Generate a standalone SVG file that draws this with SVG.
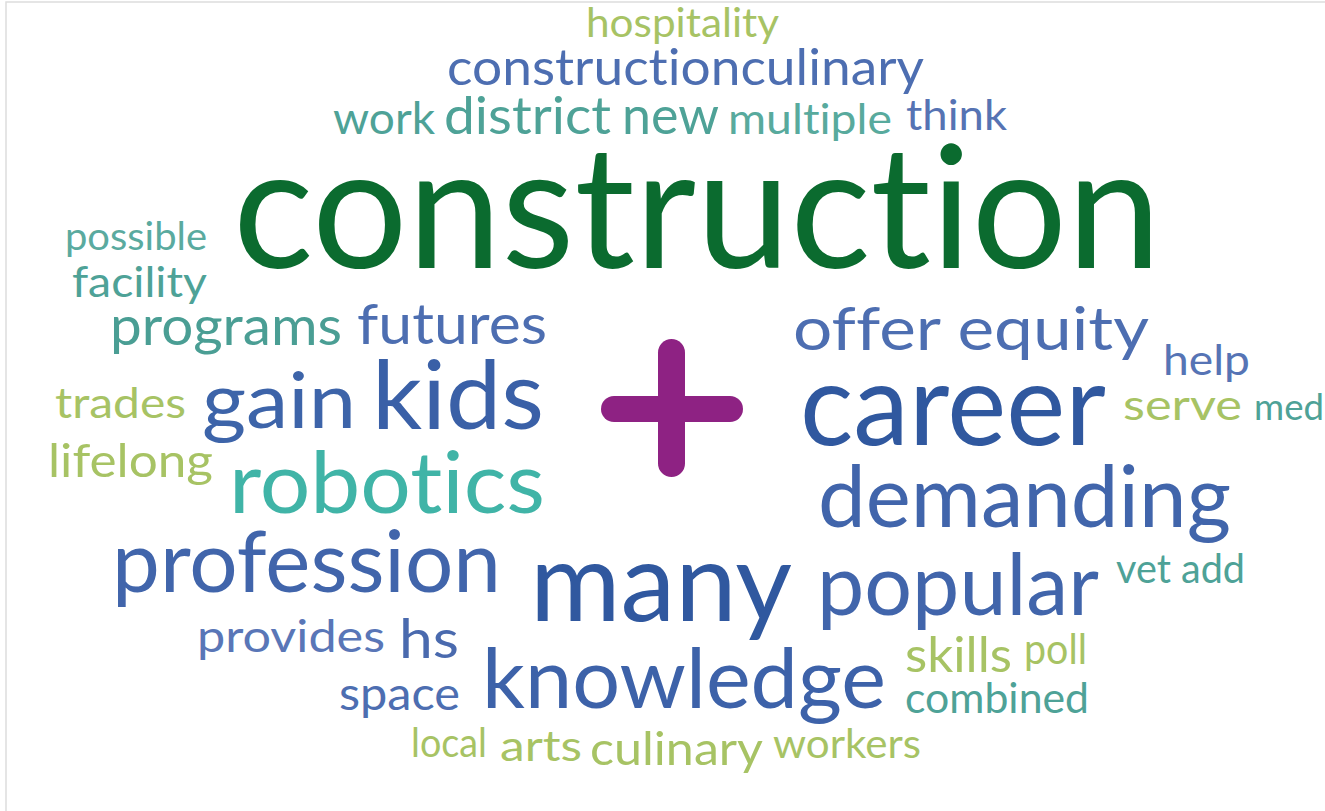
<svg xmlns="http://www.w3.org/2000/svg" width="1325" height="811" viewBox="0 0 1325 811">
<style>
text{font-family:Lato,"Open Sans","Liberation Sans",sans-serif;font-weight:400;font-variant-ligatures:none;font-feature-settings:"liga" 0,"clig" 0}
.lg{fill:#A7C364}.tl{fill:#4EA297}.bl{fill:#4D6EB1}.db{fill:#30589F}.mb{fill:#4165AB}.dg{fill:#0B6B2F}.tq{fill:#40B4A7}
</style>
<rect width="1325" height="811" fill="#fff"/>
<path d="M6,811 V2 H1325" fill="none" stroke="#DDDDDD" stroke-width="1.5"/>
<g id="plus" fill="#8E2283">
<rect x="658" y="339" width="27" height="138" rx="13.5"/>
<rect x="601" y="396" width="142" height="26" rx="13"/>
</g>
<g id="words">
<text id="w-hospitality" class="lg" x="586" y="37" font-size="40" textLength="193" lengthAdjust="spacingAndGlyphs">hospitality</text>
<text id="w-constructionculinary" class="bl" x="447" y="85" font-size="50" textLength="477" lengthAdjust="spacingAndGlyphs">constructionculinary</text>
<text id="w-work" class="tl" x="333" y="134" font-size="45" textLength="102" lengthAdjust="spacingAndGlyphs">work</text>
<text id="w-district" class="tl" x="444" y="134" font-size="52" textLength="167" lengthAdjust="spacingAndGlyphs">district</text>
<text id="w-new" class="tl" x="622" y="134" font-size="52" textLength="97" lengthAdjust="spacingAndGlyphs">new</text>
<text id="w-multiple" class="tl" x="728" y="134" font-size="43" textLength="164" lengthAdjust="spacingAndGlyphs" style="fill:#58AA9D">multiple</text>
<text id="w-think" class="bl" x="906" y="130" font-size="43" textLength="101" lengthAdjust="spacingAndGlyphs" style="fill:#5673B3">think</text>
<text id="w-construction" class="dg" x="233" y="268" font-size="170" textLength="928" lengthAdjust="spacingAndGlyphs">construction</text>
<text id="w-possible" class="tl" x="65" y="250" font-size="38" textLength="142" lengthAdjust="spacingAndGlyphs" style="fill:#5AAA9F">possible</text>
<text id="w-facility" class="tl" x="72" y="297" font-size="43" textLength="135" lengthAdjust="spacingAndGlyphs">facility</text>
<text id="w-programs" class="tl" x="110" y="345" font-size="55" textLength="232" lengthAdjust="spacingAndGlyphs" style="fill:#4A9E94">programs</text>
<text id="w-futures" class="bl" x="357" y="344" font-size="56" textLength="190" lengthAdjust="spacingAndGlyphs">futures</text>
<text id="w-offerequity" class="bl" x="793" y="350" font-size="60" textLength="356" lengthAdjust="spacingAndGlyphs">offer equity</text>
<text id="w-help" class="bl" x="1163" y="375" font-size="43" textLength="87" lengthAdjust="spacingAndGlyphs" style="fill:#5674B5">help</text>
<text id="w-trades" class="lg" x="55" y="418" font-size="43" textLength="131" lengthAdjust="spacingAndGlyphs">trades</text>
<text id="w-gain" class="mb" x="202" y="428" font-size="78" textLength="154" lengthAdjust="spacingAndGlyphs" style="fill:#3D64A9">gain</text>
<text id="w-kids" class="mb" x="372" y="429" font-size="95" textLength="172" lengthAdjust="spacingAndGlyphs" style="fill:#3A60A7">kids</text>
<text id="w-career" class="db" x="800" y="445" font-size="114" textLength="306" lengthAdjust="spacingAndGlyphs">career</text>
<text id="w-serve" class="lg" x="1123" y="420" font-size="43" textLength="119" lengthAdjust="spacingAndGlyphs">serve</text>
<text id="w-med" class="tl" x="1254" y="420" font-size="36" textLength="70" lengthAdjust="spacingAndGlyphs">med</text>
<text id="w-lifelong" class="lg" x="48" y="477" font-size="47" textLength="165" lengthAdjust="spacingAndGlyphs">lifelong</text>
<text id="w-robotics" class="tq" x="229" y="513" font-size="86" textLength="316" lengthAdjust="spacingAndGlyphs">robotics</text>
<text id="w-demanding" class="mb" x="818" y="527" font-size="86" textLength="413" lengthAdjust="spacingAndGlyphs">demanding</text>
<text id="w-profession" class="mb" x="112" y="592" font-size="86" textLength="389" lengthAdjust="spacingAndGlyphs">profession</text>
<text id="w-many" class="db" x="530" y="621" font-size="110" textLength="262" lengthAdjust="spacingAndGlyphs">many</text>
<text id="w-popular" class="mb" x="817" y="615" font-size="85" textLength="282" lengthAdjust="spacingAndGlyphs">popular</text>
<text id="w-vetadd" class="tl" x="1116" y="583" font-size="40" textLength="129" lengthAdjust="spacingAndGlyphs">vet add</text>
<text id="w-provides" class="bl" x="197" y="652" font-size="45" textLength="188" lengthAdjust="spacingAndGlyphs" style="fill:#5976B7">provides</text>
<text id="w-hs" class="bl" x="399" y="658" font-size="55" textLength="60" lengthAdjust="spacingAndGlyphs" style="fill:#4A6AAE">hs</text>
<text id="w-skills" class="lg" x="905" y="672" font-size="48" textLength="107" lengthAdjust="spacingAndGlyphs">skills</text>
<text id="w-poll" class="lg" x="1024" y="664" font-size="42" textLength="63" lengthAdjust="spacingAndGlyphs">poll</text>
<text id="w-space" class="bl" x="339" y="710" font-size="47" textLength="121" lengthAdjust="spacingAndGlyphs">space</text>
<text id="w-knowledge" class="mb" x="482" y="708" font-size="84" textLength="404" lengthAdjust="spacingAndGlyphs" style="fill:#3D62A9">knowledge</text>
<text id="w-combined" class="tl" x="905" y="713" font-size="43" textLength="184" lengthAdjust="spacingAndGlyphs">combined</text>
<text id="w-local" class="lg" x="411" y="757" font-size="40" textLength="76" lengthAdjust="spacingAndGlyphs">local</text>
<text id="w-arts" class="lg" x="500" y="761" font-size="43" textLength="82" lengthAdjust="spacingAndGlyphs">arts</text>
<text id="w-culinary" class="lg" x="590" y="765" font-size="47" textLength="173" lengthAdjust="spacingAndGlyphs">culinary</text>
<text id="w-workers" class="lg" x="773" y="758" font-size="41" textLength="148" lengthAdjust="spacingAndGlyphs">workers</text>
</g>
</svg>
